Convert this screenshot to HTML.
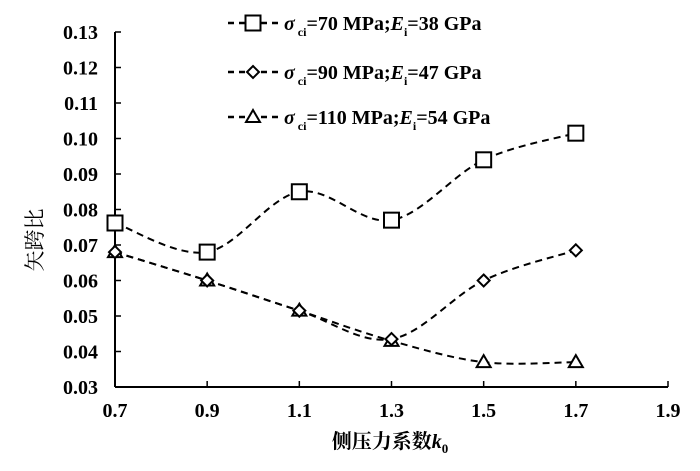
<!DOCTYPE html>
<html><head><meta charset="utf-8"><style>
body{margin:0;background:#fff}
svg text{font-family:"Liberation Serif","Noto Serif CJK SC",serif;fill:#000}
</style></head><body>
<svg id="chart" width="700" height="466" viewBox="0 0 700 466" xmlns="http://www.w3.org/2000/svg">
<g id="axes"></g>
<g id="series"></g>
<g id="legend"></g>
<text x="42" y="240" font-size="21" transform="rotate(-90 42 240)" text-anchor="middle">矢跨比</text>
<text x="390" y="448" font-size="20" font-weight="bold" text-anchor="middle">侧压力系数<tspan font-style="italic">k</tspan><tspan font-size="13" dy="5">0</tspan></text>
</svg>
<script>
const xCats=[0.7,0.9,1.1,1.3,1.5,1.7];
const xTicks=[0.7,0.9,1.1,1.3,1.5,1.7,1.9];
const yTicks=[0.03,0.04,0.05,0.06,0.07,0.08,0.09,0.10,0.11,0.12,0.13];
const s70=[0.0762,0.068,0.085,0.077,0.094,0.1015];
const s90=[0.068,0.060,0.0515,0.0435,0.060,0.0685];
const s110=[0.068,0.060,0.0515,0.043,0.037,0.037];
const NS="http://www.w3.org/2000/svg";
const X=v=>115+(v-0.7)/1.2*553;
const Y=v=>387-(v-0.03)/0.10*355;
function mk(t,a,p){const e=document.createElementNS(NS,t);for(const k in a)e.setAttribute(k,a[k]);p.appendChild(e);return e;}
const ax=document.getElementById('axes');
let l=mk('line',{x1:115,y1:Y(0.13),x2:115,y2:387,stroke:'#000','stroke-width':2},ax);


l=mk('line',{x1:115,y1:387,x2:X(1.9),y2:387,stroke:'#000','stroke-width':2},ax);


yTicks.forEach(v=>{
 const t=mk('line',{x1:115,y1:Y(v),x2:121,y2:Y(v),stroke:'#000','stroke-width':1.5},ax);
 
 
 const tx=mk('text',{x:98,y:Y(v)+7,'font-size':20,'font-weight':'bold','text-anchor':'end'},ax);tx.textContent=v.toFixed(2);
 
 
});
xTicks.forEach(v=>{
 const t=mk('line',{x1:X(v),y1:387,x2:X(v),y2:381,stroke:'#000','stroke-width':1.5},ax);
 
 
 const tx=mk('text',{x:X(v),y:417,'font-size':20,'font-weight':'bold','text-anchor':'middle'},ax);tx.textContent=v.toFixed(1);
 
 
});
function smooth(pts){let d=`M${pts[0][0]},${pts[0][1]}`;
 for(let i=0;i<pts.length-1;i++){const p0=pts[i-1]||pts[i],p1=pts[i],p2=pts[i+1],p3=pts[i+2]||p2;
 d+=` C${p1[0]+(p2[0]-p0[0])/6},${p1[1]+(p2[1]-p0[1])/6} ${p2[0]-(p3[0]-p1[0])/6},${p2[1]-(p3[1]-p1[1])/6} ${p2[0]},${p2[1]}`;}return d;}
function marker(type,x,y,p){
 if(type==='sq')return mk('rect',{x:x-7.5,y:y-7.5,width:15,height:15,fill:'#fff',stroke:'#000','stroke-width':2},p);
 if(type==='di')return mk('polygon',{points:`${x},${y-6} ${x+6},${y} ${x},${y+6} ${x-6},${y}`,fill:'#fff',stroke:'#000','stroke-width':2},p);
 return mk('polygon',{points:`${x},${y-7} ${x+7},${y+5} ${x-7},${y+5}`,fill:'#fff',stroke:'#000','stroke-width':2},p);
}
const sg=document.getElementById('series');
const defs=[[s110,'tr','series-110'],[s90,'di','series-90'],[s70,'sq','series-70']];
defs.forEach(([d,m,n])=>{
 const pts=d.map((v,i)=>[X(xCats[i]),Y(v)]);
 const p=mk('path',{d:smooth(pts),fill:'none',stroke:'#000','stroke-width':2,'stroke-dasharray':'7,5'},sg);
 
 
 pts.forEach(q=>{const e=marker(m,q[0],q[1],sg);
 
 });
});
const lg=document.getElementById('legend');
const leg=[['sq','70','38',23],['di','90','47',72],['tr','110','54',117]];
leg.forEach(([m,s,e,y])=>{
 const li=mk('line',{x1:228,y1:y,x2:278,y2:y,stroke:'#000','stroke-width':2.5,'stroke-dasharray':'6,5'},lg);
 
 
 const mm=marker(m,253,y,lg);
 
 
 const t=mk('text',{x:284,y:y+7,'font-size':20,'font-weight':'bold'},lg);
 t.innerHTML=`<tspan font-style="italic">σ</tspan><tspan font-size="12" dy="6"> ci</tspan><tspan dy="-6">=${s} MPa;</tspan><tspan font-style="italic">E</tspan><tspan font-size="12" dy="6">i</tspan><tspan dy="-6">=${e} GPa</tspan>`;
 
 
});
</script>
</body></html>
